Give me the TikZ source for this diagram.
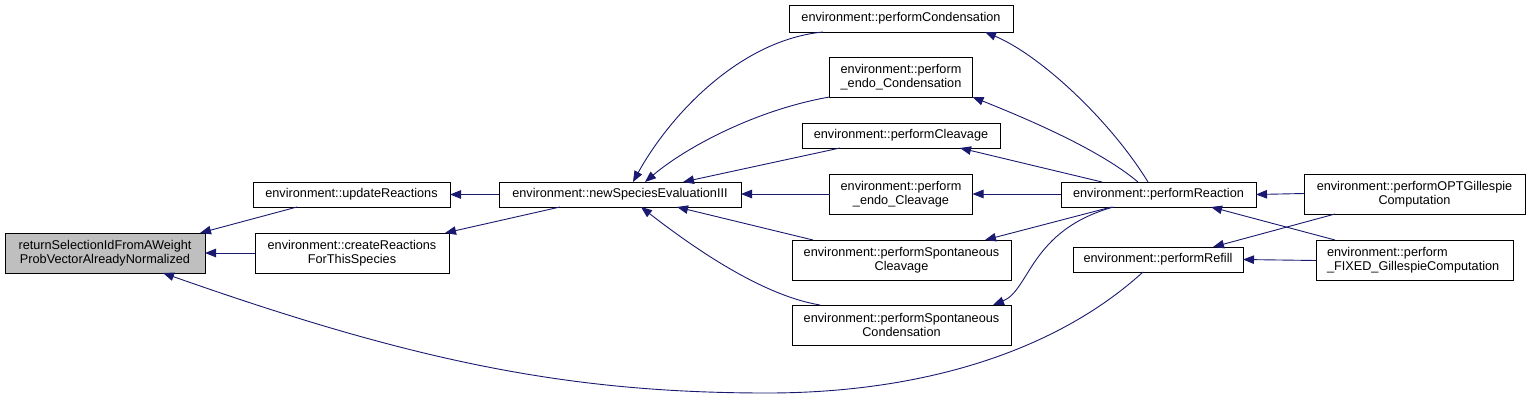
\documentclass[tikz,border=0pt]{standalone}
\usepackage{fontspec}
\setmainfont{Liberation Sans}
\usetikzlibrary{arrows.meta}
\definecolor{navyc}{HTML}{191970}
\definecolor{rootgray}{HTML}{BFBFBF}
\tikzset{
  fnbox/.style={draw=black, line width=1pt, fill=white, inner sep=0pt, outer sep=0pt,
    align=center, font=\fontsize{12.7pt}{14.5pt}\selectfont},
  callarrow/.style={draw=navyc, line width=0.9pt, {Triangle[length=11pt,width=8.5pt]}-}
}
\begin{document}
\begin{tikzpicture}[x=1pt,y=-1pt]
\fill[white] (0,0) rectangle (1531,400);
% nodes
\node[fnbox, fill=rootgray, minimum width=200pt, minimum height=40pt] (ret) at (105,253) {returnSelectionIdFromAWeight\\ProbVectorAlreadyNormalized};
\node[fnbox, minimum width=197pt, minimum height=25pt] (upd) at (351.5,194.5) {environment::updateReactions};
\node[fnbox, minimum width=194pt, minimum height=40pt] (cre) at (352,253) {environment::createReactions\\ForThisSpecies};
\node[fnbox, minimum width=242pt, minimum height=25pt] (nse) at (620,194.5) {environment::newSpeciesEvaluationIII};
\node[fnbox, minimum width=224pt, minimum height=27pt] (pc) at (901,18.5) {environment::performCondensation};
\node[fnbox, minimum width=143pt, minimum height=40pt] (pec) at (901,77) {environment::perform\\\_endo\_Condensation};
\node[fnbox, minimum width=198pt, minimum height=25pt] (pcl) at (901,135.5) {environment::performCleavage};
\node[fnbox, minimum width=143pt, minimum height=40pt] (pecl) at (901,194) {environment::perform\\\_endo\_Cleavage};
\node[fnbox, minimum width=219pt, minimum height=40pt] (psc) at (901.5,260) {environment::performSpontaneous\\Cleavage};
\node[fnbox, minimum width=219pt, minimum height=40pt] (pscn) at (901.5,325) {environment::performSpontaneous\\Condensation};
\node[fnbox, minimum width=195pt, minimum height=25pt] (pr) at (1158.5,194.5) {environment::performReaction};
\node[fnbox, minimum width=170pt, minimum height=25pt] (prf) at (1158,259.5) {environment::performRefill};
\node[fnbox, minimum width=221pt, minimum height=40pt] (popt) at (1414.5,194) {environment::performOPTGillespie\\Computation};
\node[fnbox, minimum width=197pt, minimum height=40pt, align=left, text width=175pt] (pfix) at (1414.5,260) {environment::perform\\\_FIXED\_GillespieComputation};
% edges into ret
\draw[callarrow] ([xshift=-5pt]ret.north east) -- ([xshift=-54.5pt]upd.south);
\draw[callarrow] (ret.east) -- (cre.west);
\draw[callarrow] ([xshift=58pt]ret.south) .. controls (413,361) and (567,393) .. (767,393)
   .. controls (917,393) and (1053,354) .. ([xshift=-15pt]prf.south);
% edges into upd / cre
\draw[callarrow] (upd.east) -- (nse.west);
\draw[callarrow] ([xshift=-4pt]cre.north east) -- ([xshift=-60pt]nse.south);
% edges into nse
\draw[callarrow] ([xshift=13pt]nse.north) .. controls (670,115) and (740,40) .. ([xshift=34pt]pc.south west);
\draw[callarrow] ([xshift=25pt]nse.north) .. controls (685,148) and (755,110) .. (pec.south west);
\draw[callarrow] ([xshift=63pt]nse.north) -- ([xshift=38pt]pcl.south west);
\draw[callarrow] ([yshift=0.5pt]nse.east) -- (pecl.west);
\draw[callarrow] ([xshift=57pt]nse.south) -- ([xshift=21pt]psc.north west);
\draw[callarrow] ([xshift=21pt]nse.south) .. controls (690,245) and (760,295) .. ([xshift=28pt]pscn.north west);
% edges into middle column from pr
\draw[callarrow] ([xshift=-28pt]pc.south east) .. controls (1040,55) and (1110,120) .. ([xshift=-10.5pt]pr.north);
\draw[callarrow] (pec.south east) .. controls (1030,120) and (1100,150) .. ([xshift=-20.5pt]pr.north);
\draw[callarrow] ([xshift=-40pt]pcl.south east) -- ([xshift=-56.5pt]pr.north);
\draw[callarrow] (pecl.east) -- ([yshift=0.5pt]pr.west);
\draw[callarrow] ([xshift=-26pt]psc.north east) -- ([xshift=-47pt]pr.south);
\draw[callarrow] ([xshift=-18pt]pscn.north east) .. controls (1030,290) and (1030,230) .. ([xshift=-45pt]pr.south);
% edges into pr / prf
\draw[callarrow] (pr.east) -- ([yshift=0.5pt]popt.west);
\draw[callarrow] ([xshift=-30pt]prf.north east) -- ([xshift=31pt]popt.south west);
\draw[callarrow] ([xshift=-45pt]pr.south east) -- ([xshift=19pt]pfix.north west);
\draw[callarrow] (prf.east) -- ([yshift=-0.5pt]pfix.west);
\end{tikzpicture}
\end{document}
